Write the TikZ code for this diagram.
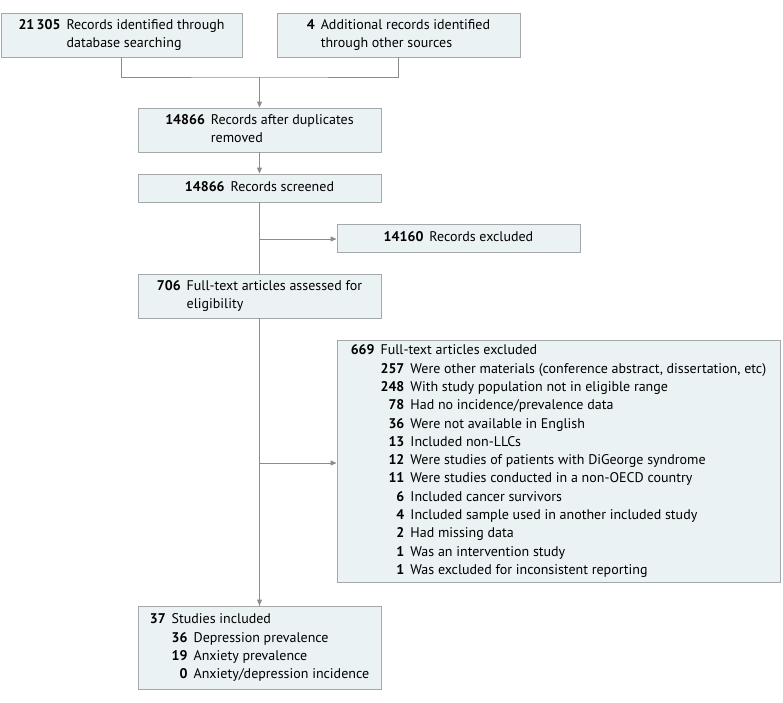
\documentclass[tikz,border=0pt]{standalone}
\usepackage{fontspec}
\setmainfont{PT Sans}
\usetikzlibrary{arrows.meta}
\definecolor{boxfill}{HTML}{EAF2F4}
\definecolor{boxline}{HTML}{A3A8AA}
\definecolor{conn}{HTML}{8C8C8C}
\newcommand{\ptab}[2]{\begin{tabular}{@{}r@{\hspace{6pt}}l@{}}\textbf{#1} & #2\end{tabular}}
\tikzset{
  flowbox/.style={draw=boxline, fill=boxfill, line width=0.9pt, inner sep=0pt,
    font=\fontsize{14}{18.3}\selectfont},
  conline/.style={draw=conn, line width=0.9pt},
  conarrow/.style={conline, -{Triangle[length=6pt,width=5pt]}},
}
\begin{document}
\begin{tikzpicture}[x=1pt,y=-1pt]
\useasboundingbox (0,0) rectangle (783,702);
\node[flowbox, minimum width=241pt, minimum height=44pt] (A) at (121.5,35)
  {\ptab{21\,305}{Records identified through\\ & database searching}};
\node[flowbox, minimum width=243pt, minimum height=44pt] (B) at (398.5,35)
  {\ptab{4}{Additional records identified\\ & through other sources}};
\node[flowbox, minimum width=243pt, minimum height=44pt] (C) at (259.5,130)
  {\ptab{14866}{Records after duplicates\\ & removed}};
\node[flowbox, minimum width=243pt, minimum height=28pt] (D) at (259.5,188)
  {\ptab{14866}{Records screened}};
\node[flowbox, minimum width=243pt, minimum height=28pt] (X) at (458.5,238)
  {\ptab{14160}{Records excluded}};
\node[flowbox, minimum width=243pt, minimum height=44pt] (E) at (259.5,296)
  {\ptab{706}{Full-text articles assessed for\\ & eligibility}};
\node[flowbox, minimum width=443pt, minimum height=242pt] (Y) at (558.5,461)
  {\begin{tabular}{@{}r@{\hspace{6pt}}r@{\hspace{6pt}}l@{}}
  \textbf{669} & \multicolumn{2}{@{}l@{}}{Full-text articles excluded}\\
  & \textbf{257} & Were other materials (conference abstract, dissertation, etc)\\
  & \textbf{248} & With study population not in eligible range\\
  & \textbf{78} & Had no incidence/prevalence data\\
  & \textbf{36} & Were not available in English\\
  & \textbf{13} & Included non-LLCs\\
  & \textbf{12} & Were studies of patients with DiGeorge syndrome\\
  & \textbf{11} & Were studies conducted in a non-OECD country\\
  & \textbf{6} & Included cancer survivors\\
  & \textbf{4} & Included sample used in another included study\\
  & \textbf{2} & Had missing data\\
  & \textbf{1} & Was an intervention study\\
  & \textbf{1} & Was excluded for inconsistent reporting
  \end{tabular}};
\node[flowbox, minimum width=243pt, minimum height=83pt] (F) at (259.5,647.5)
  {\begin{tabular}{@{}r@{\hspace{6pt}}r@{\hspace{6pt}}l@{}}
  \textbf{37} & \multicolumn{2}{@{}l@{}}{Studies included}\\
  & \textbf{36} & Depression prevalence\\
  & \textbf{19} & Anxiety prevalence\\
  & \textbf{0} & Anxiety/depression incidence
  \end{tabular}};
\coordinate (J) at (259.5,77);
\coordinate (K1) at (259.5,239);
\coordinate (K2) at (259.5,463);
\draw[conline] (A.south) |- (J) -| (B.south);
\draw[conarrow] (J) -- (C.north);
\draw[conarrow] (C.south) -- (D.north);
\draw[conline] (D.south) -- (E.north);
\draw[conarrow] (K1) -- (K1 -| X.west);
\draw[conline] (E.south) -- (F.north);
\draw[conarrow] (K2) -- (K2 -| Y.west);
\draw[conarrow] (K2) -- (F.north);
\end{tikzpicture}
\end{document}
